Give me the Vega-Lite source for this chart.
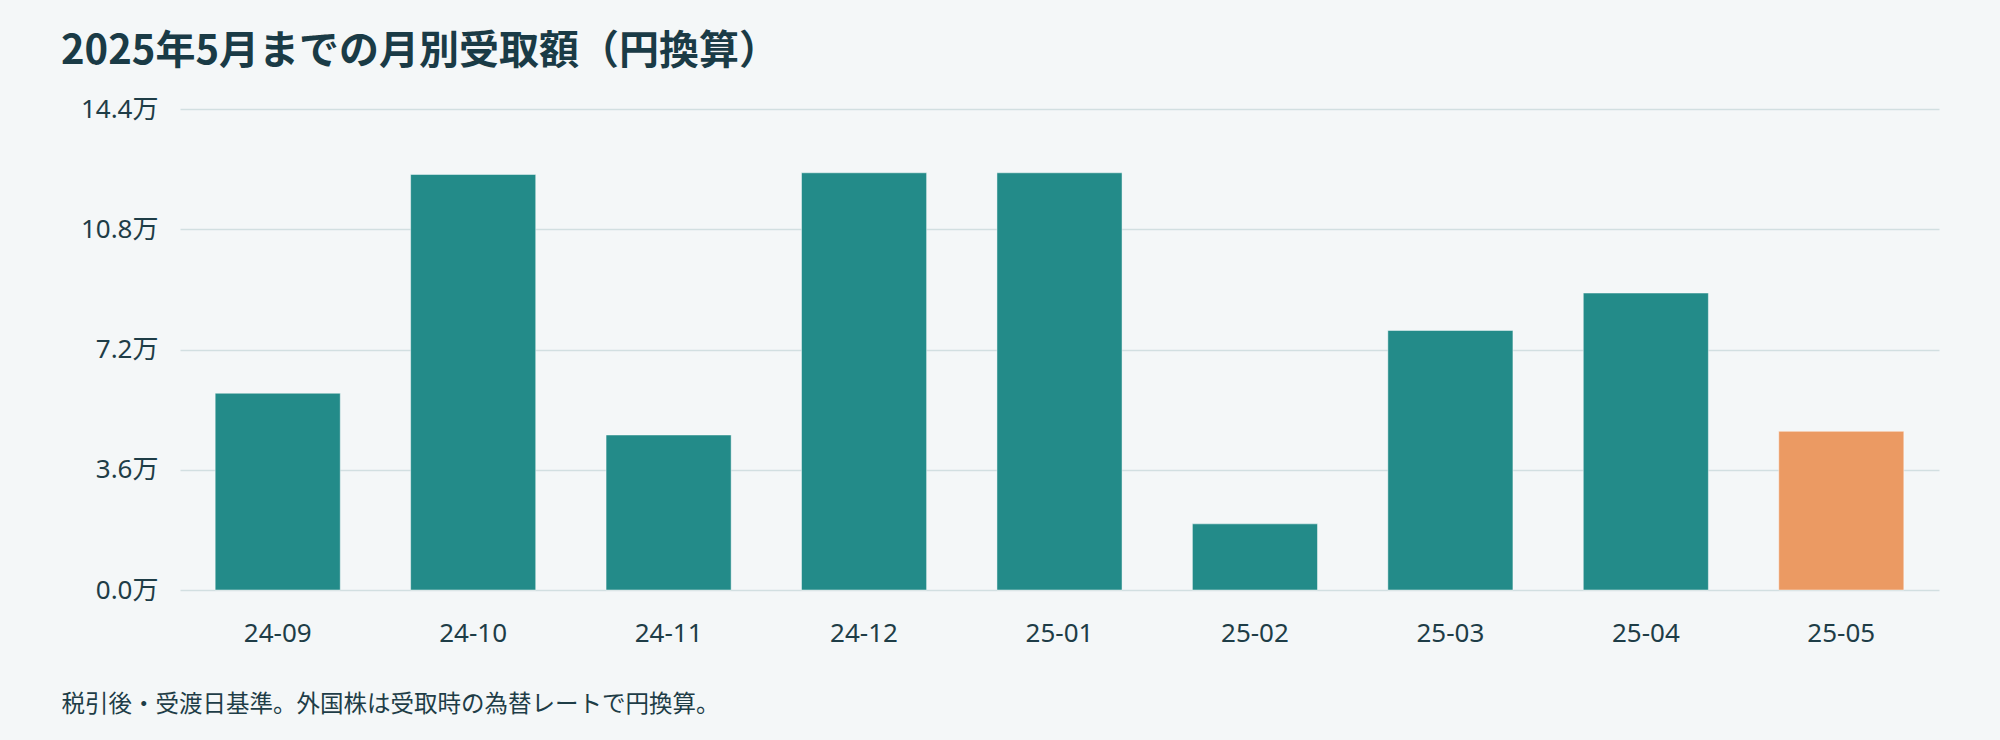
{
  "$schema": "https://vega.github.io/schema/vega-lite/v6.json",
  "width": 2000,
  "height": 740,
  "autosize": {"type": "fit", "contains": "padding"},
  "padding": {"left": 61, "right": 61, "top": 32, "bottom": 24},
  "background": "#f4f7f8",
  "title": {
    "text": "2025年5月までの月別受取額（円換算）",
    "anchor": "start",
    "frame": "bounds",
    "font": "Noto Sans CJK JP",
    "fontSize": 40,
    "fontWeight": "bold",
    "color": "#1a3b46",
    "offset": 24
  },
  "data": {
    "values": [
      {"month": "24-09", "amount": 58900, "current": "past"},
      {"month": "24-10", "amount": 124400, "current": "past"},
      {"month": "24-11", "amount": 46400, "current": "past"},
      {"month": "24-12", "amount": 124900, "current": "past"},
      {"month": "25-01", "amount": 124900, "current": "past"},
      {"month": "25-02", "amount": 19800, "current": "past"},
      {"month": "25-03", "amount": 77700, "current": "past"},
      {"month": "25-04", "amount": 88900, "current": "past"},
      {"month": "25-05", "amount": 47500, "current": "current"}
    ]
  },
  "mark": {"type": "bar", "stroke": "#ffffff", "strokeOpacity": 0.45, "strokeWidth": 1},
  "encoding": {
    "x": {
      "field": "month",
      "type": "ordinal",
      "sort": null,
      "scale": {"paddingInner": 0.36, "paddingOuter": 0.18},
      "axis": {
        "title": "税引後・受渡日基準。外国株は受取時の為替レートで円換算。",
        "titleAnchor": "start",
        "titleAlign": "left",
        "titleX": -119,
        "titleY": 121,
        "titleBaseline": "alphabetic",
        "titleFont": "Noto Sans CJK JP",
        "titleFontSize": 23.5,
        "titleFontWeight": "normal",
        "titleColor": "#1e3d47",
        "labelAngle": 0,
        "labelFont": "Noto Sans, Noto Sans CJK JP",
        "labelFontSize": 26,
        "labelColor": "#1e3d47",
        "labelBaseline": "alphabetic",
        "labelPadding": 51,
        "ticks": false,
        "tickSize": 0,
        "domain": false,
        "grid": false
      }
    },
    "y": {
      "field": "amount",
      "type": "quantitative",
      "scale": {"domain": [0, 144000], "nice": false},
      "axis": {
        "title": null,
        "values": [0, 36000, 72000, 108000, 144000],
        "labelExpr": "format(datum.value / 10000, '.1f') + '万'",
        "labelFont": "Noto Sans, Noto Sans CJK JP",
        "labelFontSize": 26,
        "labelColor": "#1e3d47",
        "labelPadding": 22,
        "ticks": false,
        "tickSize": 0,
        "domain": false,
        "grid": true,
        "gridColor": "#d2dfe1",
        "gridWidth": 1.5
      }
    },
    "color": {
      "field": "current",
      "type": "nominal",
      "scale": {"domain": ["past", "current"], "range": ["#238b89", "#eb9a63"]},
      "legend": null
    }
  },
  "config": {"view": {"stroke": null}}
}
